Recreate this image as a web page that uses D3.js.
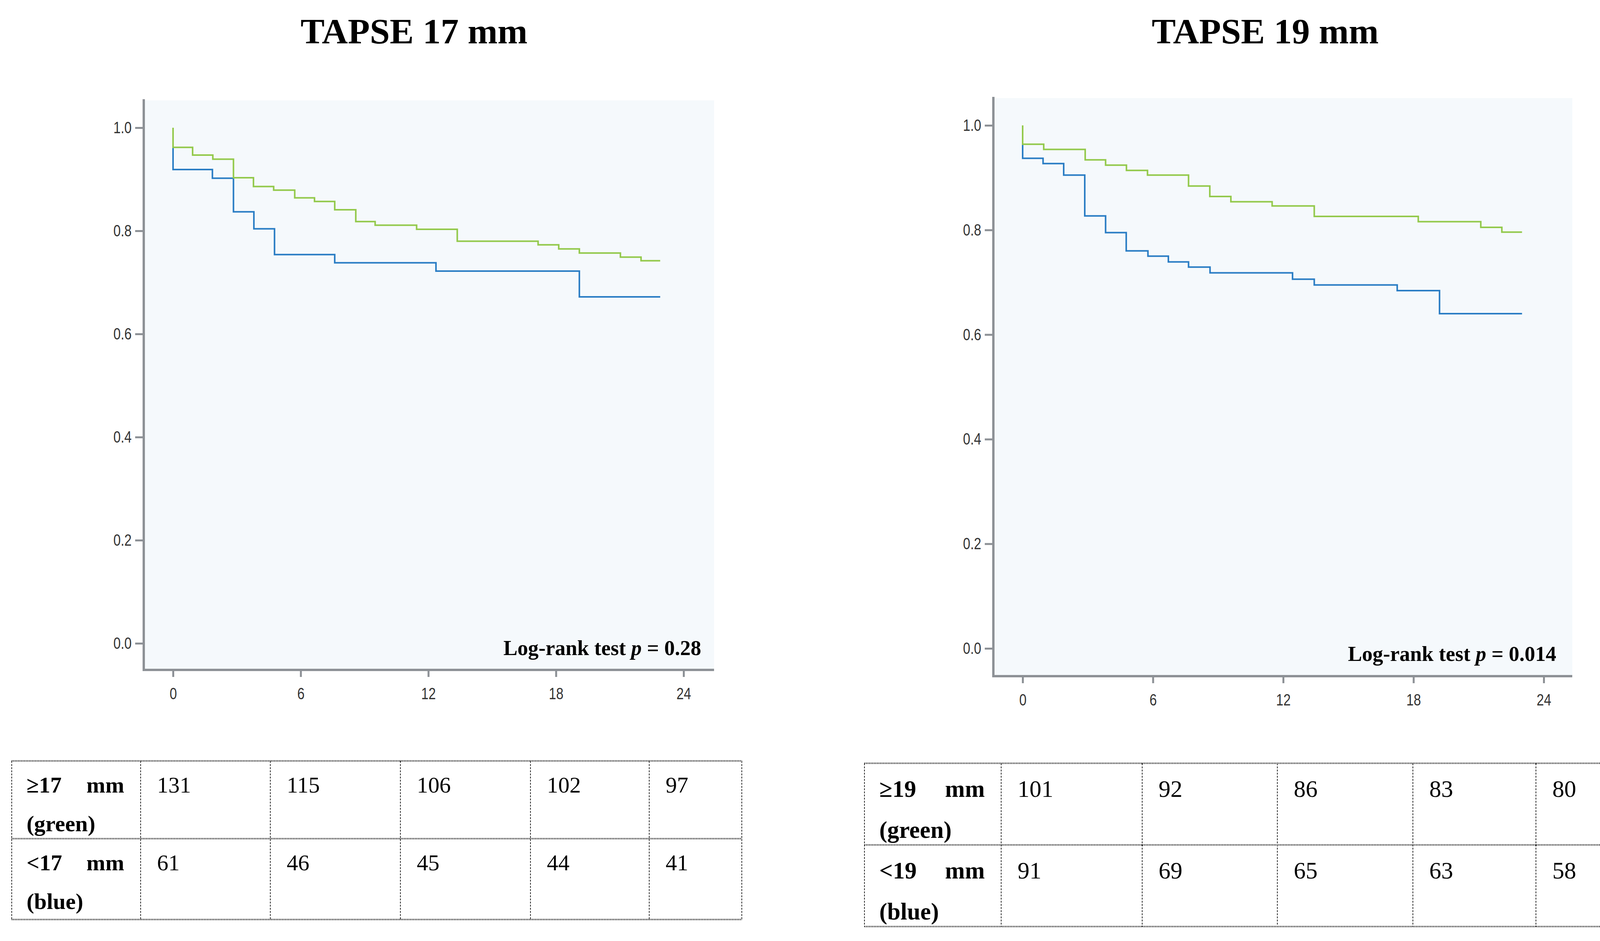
<!DOCTYPE html>
<html>
<head>
<meta charset="utf-8"/>
<title>TAPSE Kaplan-Meier</title>
<script src="https://cdn.jsdelivr.net/npm/d3@7"></script>
<style>
  body { margin: 0; background: #fff; }
  .tick text { font-family: "Liberation Sans", Arial, sans-serif; fill: #333; }
</style>
</head>
<body>
<div id="chart"></div>
<script>
// ---- data ----
var monthTicks = [0, 6, 12, 18, 24];
var survTicks = [0, 0.2, 0.4, 0.6, 0.8, 1.0];

// [month, survival] at each step
var tapse17Green = [[0,1.0],[0,0.962],[0.92,0.947],[1.87,0.939],[2.84,0.903],[3.78,0.886],[4.73,0.879],
  [5.72,0.864],[6.65,0.857],[7.6,0.841],[8.59,0.818],[9.5,0.811],[11.45,0.803],[13.36,0.780],
  [17.16,0.773],[18.13,0.765],[19.1,0.757],[21.03,0.749],[22.0,0.742],[22.9,0.742]];
var tapse17Blue = [[0,1.0],[0,0.919],[1.85,0.902],[2.84,0.837],[3.8,0.804],[4.77,0.754],[7.6,0.738],
  [12.36,0.722],[19.1,0.672],[22.9,0.672]];
var tapse19Green = [[0,1.0],[0,0.964],[0.97,0.954],[2.88,0.934],[3.82,0.924],[4.78,0.914],[5.75,0.905],
  [7.64,0.884],[8.62,0.864],[9.59,0.854],[11.49,0.846],[13.43,0.826],[18.22,0.816],[21.1,0.805],
  [22.07,0.796],[23.0,0.796]];
var tapse19Blue = [[0,1.0],[0,0.937],[0.94,0.927],[1.89,0.905],[2.86,0.827],[3.82,0.795],[4.77,0.760],
  [5.77,0.750],[6.71,0.739],[7.64,0.729],[8.63,0.718],[12.43,0.706],[13.43,0.695],[17.25,0.684],
  [19.2,0.640],[23.0,0.640]];

var atRisk17Green = [131, 115, 106, 102, 97];
var atRisk17Blue = [61, 46, 45, 44, 41];
var atRisk19Green = [101, 92, 86, 83, 80];
var atRisk19Blue = [91, 69, 65, 63, 58];

var green = "#93c94b", blue = "#2a7dc4", axisGrey = "#8d9196";
var squeeze = 0.8; // tick labels are set in a condensed face

var svg = d3.select("#chart").append("svg")
  .attr("width", 4224)
  .attr("height", 2409);

var panels = [
  { title: "TAPSE 17 mm", cx: 1060, p: "0.28", green: tapse17Green, blue: tapse17Blue,
    left: 368, right: 1828, top: 257, bottom: 1715, x0: 443, x1: 1750, y0: 1647, y1: 327,
    textRight: 1795, textBase: 1677 },
  { title: "TAPSE 19 mm", cx: 3239, p: "0.014", green: tapse19Green, blue: tapse19Blue,
    left: 2543, right: 4025, top: 251, bottom: 1731, x0: 2618, x1: 3952, y0: 1660, y1: 321,
    textRight: 3984, textBase: 1692 }
];

panels.forEach(function(pn) {
  svg.append("text")
    .attr("x", pn.cx).attr("y", 111)
    .attr("text-anchor", "middle")
    .style("font-family", "'Liberation Serif', 'DejaVu Serif', serif")
    .style("font-weight", "bold")
    .style("font-size", "92px")
    .text(pn.title);

  svg.append("rect")
    .attr("x", pn.left).attr("y", pn.top)
    .attr("width", pn.right - pn.left).attr("height", pn.bottom - pn.top)
    .attr("fill", "#f5f9fc");

  var x = d3.scaleLinear().domain([0, 24]).range([pn.x0, pn.x1]);
  var y = d3.scaleLinear().domain([0, 1]).range([pn.y0, pn.y1]);

  var line = d3.line()
    .x(function(d) { return x(d[0]); })
    .y(function(d) { return y(d[1]); })
    .curve(d3.curveStepAfter);

  // blue first so green sits on top at the shared start
  svg.append("path").datum(pn.blue)
    .attr("d", line).attr("fill", "none")
    .attr("stroke", blue).attr("stroke-width", 4);
  svg.append("path").datum(pn.green)
    .attr("d", line).attr("fill", "none")
    .attr("stroke", green).attr("stroke-width", 4);

  var yAxis = svg.append("g")
    .attr("transform", "translate(" + pn.left + ",0)")
    .call(d3.axisLeft(y).tickValues(survTicks).tickFormat(d3.format(".1f"))
      .tickSize(22).tickPadding(9));
  yAxis.select(".domain").remove();
  yAxis.selectAll(".tick line").attr("stroke", axisGrey).attr("stroke-width", 5);
  yAxis.selectAll(".tick text").style("font-size", "42px")
    .attr("x", -31 / squeeze)
    .attr("transform", "scale(" + squeeze + ",1)");

  var xAxis = svg.append("g")
    .attr("transform", "translate(0," + pn.bottom + ")")
    .call(d3.axisBottom(x).tickValues(monthTicks).tickSize(18).tickPadding(27));
  xAxis.select(".domain").remove();
  xAxis.selectAll(".tick line").attr("stroke", axisGrey).attr("stroke-width", 5);
  xAxis.selectAll(".tick text").style("font-size", "42px")
    .attr("transform", "scale(" + squeeze + ",1)");

  svg.append("line")
    .attr("x1", pn.left).attr("x2", pn.left)
    .attr("y1", pn.top - 3).attr("y2", pn.bottom)
    .attr("stroke", axisGrey).attr("stroke-width", 6);
  svg.append("line")
    .attr("x1", pn.left - 3).attr("x2", pn.right)
    .attr("y1", pn.bottom).attr("y2", pn.bottom)
    .attr("stroke", axisGrey).attr("stroke-width", 6);

  var lr = svg.append("text")
    .attr("x", pn.textRight).attr("y", pn.textBase)
    .attr("text-anchor", "end")
    .style("font-family", "'Liberation Serif', 'DejaVu Serif', serif")
    .style("font-weight", "bold")
    .style("font-size", "54px");
  lr.append("tspan").text("Log-rank test ");
  lr.append("tspan").style("font-style", "italic").text("p");
  lr.append("tspan").text(" = " + pn.p);
});

// ---- number-at-risk tables ----
var tables = [
  { cols: [30, 360, 692, 1025, 1358, 1662, 1899], rows: [1948, 2147, 2354], fs: 58, b1: 81, b2: 180,
    labels: [["\u226517", "(green)"], ["<17", "(blue)"]], values: [atRisk17Green, atRisk17Blue] },
  { cols: [2213, 2563, 2924, 3270, 3617, 3932, 4184], rows: [1954, 2163, 2372], fs: 61, b1: 86, b2: 191,
    labels: [["\u226519", "(green)"], ["<19", "(blue)"]], values: [atRisk19Green, atRisk19Blue] }
];

tables.forEach(function(tb) {
  var g = svg.append("g")
    .style("font-family", "'Liberation Serif', 'DejaVu Serif', serif")
    .style("font-size", tb.fs + "px");
  var xl = tb.cols[0], xr = tb.cols[tb.cols.length - 1];

  tb.rows.forEach(function(ry) {
    g.append("line").attr("x1", xl).attr("x2", xr).attr("y1", ry).attr("y2", ry)
      .attr("stroke", "#333").attr("stroke-width", 4).attr("stroke-dasharray", "2,2");
  });
  tb.cols.forEach(function(cx) {
    g.append("line").attr("x1", cx).attr("x2", cx)
      .attr("y1", tb.rows[0]).attr("y2", tb.rows[tb.rows.length - 1])
      .attr("stroke", "#333").attr("stroke-width", 2).attr("stroke-dasharray", "5,3");
  });

  tb.labels.forEach(function(lb, r) {
    var top = tb.rows[r];
    var lx = tb.cols[0] + 38;
    g.append("text").attr("x", lx).attr("y", top + tb.b1)
      .style("font-weight", "bold").text(lb[0]);
    g.append("text").attr("x", tb.cols[1] - 42).attr("y", top + tb.b1)
      .attr("text-anchor", "end").style("font-weight", "bold").text("mm");
    g.append("text").attr("x", lx).attr("y", top + tb.b2)
      .style("font-weight", "bold").text(lb[1]);

    tb.values[r].forEach(function(v, i) {
      g.append("text").attr("x", tb.cols[i + 1] + 42).attr("y", top + tb.b1).text(v);
    });
  });
});
</script>
</body>
</html>
